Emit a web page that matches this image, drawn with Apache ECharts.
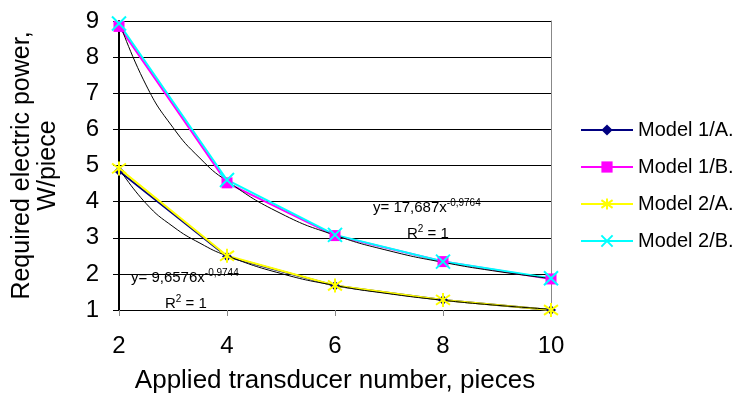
<!DOCTYPE html>
<html><head><meta charset="utf-8">
<script src="https://cdn.jsdelivr.net/npm/echarts@6/dist/echarts.min.js"></script>
<style>html,body{margin:0;padding:0;background:#fff}#c{width:738px;height:394px}</style>
</head><body><div id="c"></div>
<script>
const xValues = [2, 4, 6, 8, 10];
const model1A = [4.85, 2.48, 1.67, 1.28, 1.0];
const model1B = [8.85, 4.52, 3.06, 2.34, 1.86];
const model2A = [4.92, 2.5, 1.68, 1.28, 1.0];
const model2B = [8.93, 4.6, 3.08, 2.34, 1.88];
// trendline samples
const trendX = [2, 2.5, 3, 3.5, 4, 5, 6, 7, 8, 9, 10];
const trendUpper = [8.99, 7.23, 6.05, 5.2, 4.57, 3.67, 3.07, 2.64, 2.32, 2.07, 1.87];
const trendLower = [4.92, 3.95, 3.31, 2.85, 2.5, 2.01, 1.68, 1.45, 1.27, 1.13, 1.02];
const yTicks = [1, 9, 1];
const eqUpper = ['y= 17,687x', '-0,9764'];
const eqLower = ['y= 9,6576x', '-0,9744'];

const pair = (xs, ys) => xs.map((x, i) => [x, ys[i]]);
const F = 'Arial, "Liberation Sans", sans-serif';
const starPath = 'path://M0,-10L0,10M-7,-7L7,7M-7,7L7,-7';
const xPath = 'path://M-10,-10L10,10M-10,10L10,-10';

const chart = echarts.init(document.getElementById('c'));
function mk(name, data, color, symbol, size, extra) {
  return Object.assign({
    name, type: 'line', data: pair(xValues, data), symbol, symbolSize: size,
    lineStyle: { color, width: 2 }, itemStyle: { color, borderColor: color, borderWidth: 0 },
    emphasis: { disabled: true }
  }, extra || {});
}
const rich = {
  a: { fontSize: 15, fontFamily: F, fill: '#000', color: '#000' },
  s: { fontSize: 10, fontFamily: F, fill: '#000', color: '#000', padding: [0, 0, 9, 0] }
};
chart.setOption({
  animation: false,
  textStyle: { fontFamily: F },
  grid: { left: 119, right: 187, top: 21, bottom: 84, containLabel: false, outerBoundsMode: 'none' },
  legend: {
    orient: 'vertical', left: 575, top: 115, itemGap: 17, itemWidth: 52, itemHeight: 14,
    textStyle: { fontSize: 20, color: '#000', fontFamily: F },
    data: ['Model 1/A.', 'Model 1/B.', 'Model 2/A.', 'Model 2/B.']
  },
  xAxis: {
    type: 'value', min: xValues[0], max: xValues[xValues.length - 1], interval: 2,
    name: 'Applied transducer number, pieces', nameLocation: 'middle', nameGap: 58,
    nameTextStyle: { fontSize: 26, color: '#000', fontFamily: F },
    axisLine: { show: true, lineStyle: { color: '#000', width: 1 } },
    axisTick: { show: true, length: 6, lineStyle: { color: '#888' } },
    axisLabel: { fontSize: 24, color: '#000', margin: 24, fontFamily: F },
    splitLine: { show: false }
  },
  yAxis: [{
    type: 'value', min: yTicks[0], max: yTicks[1], interval: yTicks[2],
    name: 'Required electric power,\nW/piece', nameLocation: 'middle', nameGap: 58, nameRotate: 90,
    nameTextStyle: { fontSize: 25, color: '#000', lineHeight: 26, fontFamily: F },
    axisLine: { show: true, onZero: false, lineStyle: { color: '#000', width: 2 } },
    axisTick: { show: true, length: 6, lineStyle: { color: '#000' } },
    axisLabel: { fontSize: 24, color: '#000', margin: 20, fontFamily: F },
    splitLine: { show: true, lineStyle: { color: '#000', width: 1 } }
  }, {
    type: 'value', min: yTicks[0], max: yTicks[1], interval: yTicks[2], position: 'right',
    axisLine: { show: true, lineStyle: { color: '#888', width: 1 } },
    axisTick: { show: false }, axisLabel: { show: false }, splitLine: { show: false }
  }],
  series: [
    mk('Model 1/A.', model1A, '#000080', 'diamond', 10),
    mk('Model 1/B.', model1B, '#FF00FF', 'rect', 11),
    mk('Model 2/A.', model2A, '#FFFF00', starPath, 14, { itemStyle: { color: '#FFFF00', borderColor: '#FFFF00', borderWidth: 2 } }),
    mk('Model 2/B.', model2B, '#00FFFF', xPath, 14, { itemStyle: { color: '#00FFFF', borderColor: '#00FFFF', borderWidth: 2 } }),
    { name: 'trendU', type: 'line', data: pair(trendX, trendUpper), smooth: true, symbol: 'none',
      lineStyle: { color: '#000', width: 1 }, z: 3, emphasis: { disabled: true } },
    { name: 'trendL', type: 'line', data: pair(trendX, trendLower), smooth: true, symbol: 'none',
      lineStyle: { color: '#000', width: 1 }, z: 3, emphasis: { disabled: true } }
  ],
  graphic: [
    { type: 'text', left: 373, top: 198, style: { rich, text: '{a|' + eqUpper[0] + '}{s|' + eqUpper[1] + '}' } },
    { type: 'text', left: 407, top: 224, style: { rich, text: '{a|R}{s|2}{a| = 1}' } },
    { type: 'text', left: 131, top: 268, style: { rich, text: '{a|' + eqLower[0] + '}{s|' + eqLower[1] + '}' } },
    { type: 'text', left: 165, top: 294, style: { rich, text: '{a|R}{s|2}{a| = 1}' } }
  ]
});
</script></body></html>
